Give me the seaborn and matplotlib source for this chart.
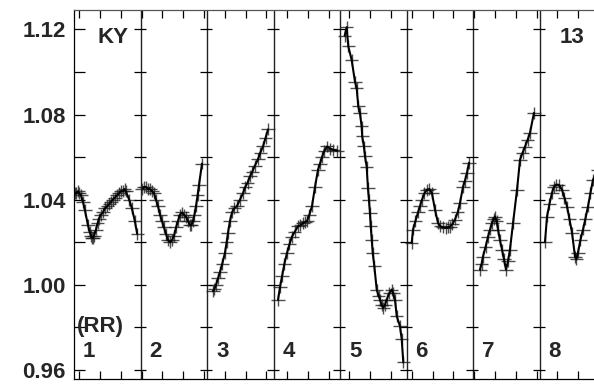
import matplotlib
matplotlib.use("Agg")
import matplotlib.pyplot as plt
from matplotlib.ticker import MultipleLocator
import numpy as np
import pandas as pd
import seaborn as sns


# phase inside each panel (0..1) and relative flux
P1_X = [0.015, 0.035, 0.06, 0.08, 0.105, 0.135, 0.165, 0.21, 0.235, 0.255,
        0.27, 0.285, 0.30, 0.33, 0.355, 0.375, 0.405, 0.435, 0.465, 0.5,
        0.53, 0.555, 0.585, 0.615, 0.645, 0.675, 0.705, 0.735, 0.76, 0.78,
        0.83, 0.87, 0.915, 0.95]
P1_Y = [1.043, 1.043, 1.044, 1.043, 1.042, 1.039, 1.035, 1.028, 1.025, 1.023,
        1.022, 1.022, 1.023, 1.026, 1.029, 1.031, 1.033, 1.034, 1.036, 1.037,
        1.038, 1.039, 1.040, 1.041, 1.042, 1.043, 1.044, 1.044, 1.045, 1.044,
        1.040, 1.036, 1.030, 1.024]

P2_X = [0.023, 0.05, 0.083, 0.113, 0.143, 0.173, 0.203, 0.233, 0.263, 0.293,
        0.323, 0.353, 0.383, 0.414, 0.444, 0.474, 0.504, 0.534, 0.564, 0.594,
        0.624, 0.654, 0.684, 0.714, 0.744, 0.765, 0.789, 0.812, 0.835, 0.858,
        0.88, 0.925]
P2_Y = [1.045, 1.046, 1.046, 1.045, 1.045, 1.044, 1.043, 1.040, 1.037, 1.033,
        1.030, 1.027, 1.024, 1.021, 1.020, 1.021, 1.023, 1.027, 1.030, 1.033,
        1.034, 1.033, 1.032, 1.030, 1.028, 1.028, 1.030, 1.033, 1.037, 1.042,
        1.047, 1.057]

P3_X = [0.09, 0.11, 0.135, 0.165, 0.195, 0.23, 0.27, 0.295, 0.316, 0.345,
        0.376, 0.41, 0.451, 0.495, 0.541, 0.575, 0.61, 0.647, 0.68, 0.72,
        0.767, 0.80, 0.842, 0.88, 0.917]
P3_Y = [0.997, 0.998, 1.000, 1.003, 1.006, 1.010, 1.015, 1.020, 1.0245, 1.030,
        1.034, 1.036, 1.037, 1.040, 1.043, 1.046, 1.048, 1.051, 1.053, 1.056,
        1.059, 1.062, 1.065, 1.069, 1.073]

P4_X = [0.068, 0.098, 0.128, 0.165, 0.203, 0.24, 0.278, 0.32, 0.368, 0.405,
        0.444, 0.475, 0.504, 0.54, 0.579, 0.624, 0.669, 0.70, 0.729, 0.765,
        0.805, 0.85, 0.895, 0.955]
P4_Y = [0.993, 0.999, 1.004, 1.010, 1.015, 1.019, 1.0227, 1.025, 1.0275,
        1.028, 1.029, 1.0295, 1.030, 1.033, 1.037, 1.046, 1.054, 1.057, 1.060,
        1.063, 1.065, 1.064, 1.0635, 1.063]

P5_X = [0.07, 0.10, 0.125, 0.175, 0.225, 0.25, 0.275, 0.30, 0.325, 0.334,
        0.36, 0.376, 0.401, 0.42, 0.435, 0.45, 0.462, 0.477, 0.492, 0.516,
        0.552, 0.58, 0.602, 0.625, 0.651, 0.675, 0.702, 0.74, 0.777, 0.80,
        0.827, 0.853, 0.902, 0.928, 0.952]
P5_Y = [1.117, 1.121, 1.112, 1.1057, 1.0955, 1.0926, 1.0838, 1.0808, 1.0744,
        1.0697, 1.065, 1.0603, 1.0556, 1.0455, 1.040, 1.0338, 1.0275, 1.0213,
        1.015, 1.0088, 0.9978, 0.9950, 0.9931, 0.9905, 0.9892, 0.9905, 0.9931,
        0.9960, 0.9978, 0.9960, 0.9931, 0.9853, 0.9806, 0.9744, 0.9636]

P6_X = [0.078, 0.098, 0.135, 0.173, 0.203, 0.233, 0.27, 0.308, 0.345, 0.383,
        0.429, 0.474, 0.51, 0.549, 0.59, 0.62, 0.654, 0.69, 0.729, 0.77,
        0.805, 0.85, 0.88, 0.91, 0.94]
P6_Y = [1.0197, 1.026, 1.030, 1.034, 1.037, 1.040, 1.043, 1.0447, 1.045,
        1.043, 1.0353, 1.029, 1.0275, 1.027, 1.0268, 1.027, 1.0274, 1.0285,
        1.0307, 1.034, 1.0386, 1.0461, 1.049, 1.0527, 1.0574]

P7_X = [0.105, 0.13, 0.15, 0.19, 0.226, 0.256, 0.286, 0.31, 0.331, 0.355,
        0.376, 0.405, 0.436, 0.466, 0.496, 0.526, 0.556, 0.602, 0.662, 0.707,
        0.745, 0.782, 0.82, 0.857, 0.917]
P7_Y = [1.0072, 1.010, 1.0133, 1.018, 1.0227, 1.026, 1.029, 1.031, 1.0321,
        1.030, 1.026, 1.021, 1.0166, 1.012, 1.0072, 1.011, 1.0166, 1.029,
        1.0447, 1.0588, 1.062, 1.0649, 1.068, 1.0714, 1.0808]

P8_X = [0.083, 0.113, 0.15, 0.188, 0.218, 0.248, 0.29, 0.338, 0.375, 0.414,
        0.45, 0.489, 0.534, 0.555, 0.579, 0.615, 0.654, 0.69, 0.729, 0.765,
        0.805, 0.88]
P8_Y = [1.0203, 1.0321, 1.038, 1.0433, 1.046, 1.0471, 1.047, 1.0447, 1.041,
        1.0368, 1.031, 1.0245, 1.0133, 1.012, 1.0152, 1.021, 1.026, 1.031,
        1.0368, 1.043, 1.0494, 1.054]

PANEL_X = [P1_X, P2_X, P3_X, P4_X, P5_X, P6_X, P7_X, P8_X]
PANEL_Y = [P1_Y, P2_Y, P3_Y, P4_Y, P5_Y, P6_Y, P7_Y, P8_Y]
PANEL_LABELS = ["1", "2", "3", "4", "5", "6", "7", "8"]
Y_TICKS = [0.96, 1.00, 1.04, 1.08, 1.12]

FONT = ["Liberation Sans", "DejaVu Sans"]


def main():
    sns.set_theme(style="white")
    plt.rcParams["font.family"] = FONT

    frames = []
    for i, (xs, ys) in enumerate(zip(PANEL_X, PANEL_Y)):
        frames.append(pd.DataFrame({"x": np.array(xs) + i, "flux": ys, "panel": i}))
    df = pd.concat(frames, ignore_index=True)

    fig = plt.figure(figsize=(5.94, 3.90), dpi=100)
    ax = fig.add_axes([74 / 594, 11 / 390, 532 / 594, 369 / 390])

    for i, part in df.groupby("panel"):
        ax.errorbar(part["x"], part["flux"], xerr=0.1, yerr=0.0028,
                    fmt="none", ecolor="#222222", elinewidth=1.0, alpha=0.8)
        sns.lineplot(data=part, x="x", y="flux", color="black", lw=1.5,
                     estimator=None, sort=False, ax=ax)

    ax.set_xlim(0, len(PANEL_LABELS))
    ax.set_ylim(0.9558, 1.1291)

    # panel separators with their own crossing ticks
    minor = np.arange(0.96, 1.1201, 0.02)
    for b in range(1, len(PANEL_LABELS)):
        ax.axvline(b, color="#222222", lw=1.0)
        ax.hlines(minor, b - 0.1, b + 0.08, color="black", lw=0.9)

    for i, lab in enumerate(PANEL_LABELS):
        ax.text(i + 0.135, 0.966, lab, fontsize=16, fontweight="bold")
    ax.text(0.045, 0.978, "(RR)", fontsize=16, fontweight="bold")
    ax.text(0.36, 1.1137, "KY", fontsize=16, fontweight="bold")
    ax.text(7.31, 1.1137, "13", fontsize=16, fontweight="bold")

    ax.set_yticks(Y_TICKS)
    ax.set_yticklabels([f"{v:.2f}" for v in Y_TICKS], fontsize=16,
                       fontweight="bold")
    ax.yaxis.set_minor_locator(MultipleLocator(0.02))
    ax.tick_params(axis="y", which="both", direction="in", length=8,
                   width=0.9, color="black", pad=6, left=True)

    ax.set_xticks(np.arange(0.08, 8, 0.3125))
    ax.tick_params(axis="x", which="both", direction="in", length=6,
                   width=0.9, color="black", bottom=True, top=True,
                   labelbottom=False)
    ax.set_xlabel("")
    ax.set_ylabel("")

    for side in ["left", "bottom", "top", "right"]:
        ax.spines[side].set_color("black")
        ax.spines[side].set_linewidth(0.9)
    ax.spines["top"].set_color("#555555")

    fig.savefig("out.png", dpi=100)
    plt.close(fig)


if __name__ == "__main__":
    main()
